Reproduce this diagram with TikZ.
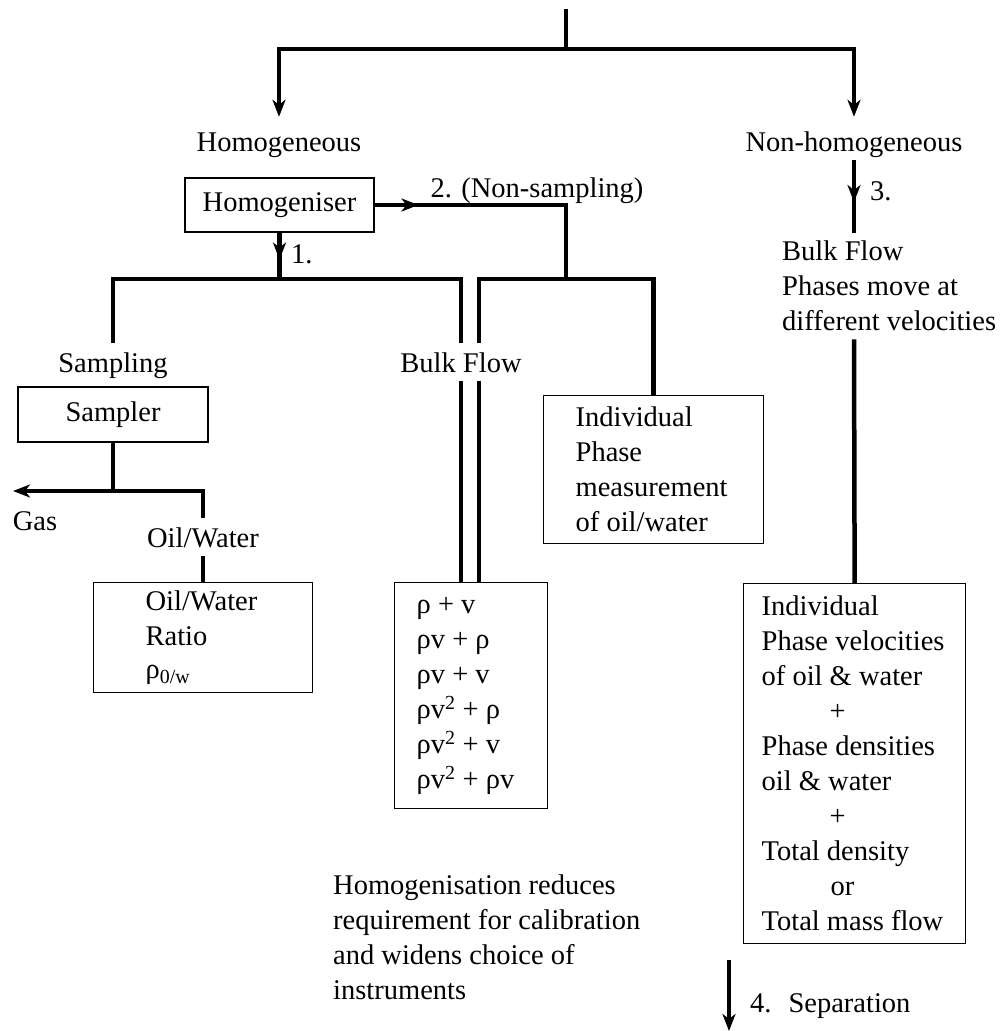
\documentclass[tikz,border=0pt]{standalone}
\usepackage{fontspec}
\setmainfont{Liberation Serif}
\usetikzlibrary{arrows.meta,decorations.markings,calc}
\hyphenpenalty=10000
\begin{document}
\begin{tikzpicture}[x=1pt,y=-1pt,
  every node/.style={font=\fontsize{28.5pt}{35pt}\selectfont, inner sep=0pt},
  lbl/.style={text height=26pt, text depth=6pt, inner ysep=3pt, inner xsep=2pt, anchor=base},
  para/.style={align=flush left, execute at begin node={\spaceskip=0pt\xspaceskip=0pt\relax}},
  conn/.style={line width=4.5pt, black},
  arrowend/.style={-{Stealth[length=17pt,width=13pt,inset=5pt]}},
  midarrow/.style={postaction={decorate}, decoration={markings, mark=at position #1 with {\arrow{Stealth[length=17pt,width=13pt,inset=5pt]}}}},
  box/.style={draw, line width=1.3pt, para, anchor=north west},
  sbox/.style={draw, line width=1.3pt},
]
\useasboundingbox (0,0) rectangle (1005,1031);

% top split
\coordinate (top) at (566,9);
\coordinate (j0) at (566,49);
\node[lbl] (homog) at (279,151) {Homogeneous};
\node[lbl] (nonhom) at (854,151) {Non-homogeneous};
\draw[conn] (top) -- (j0);
\draw[conn, arrowend, shorten >=5pt] (j0) -| (homog.north);
\draw[conn, arrowend, shorten >=5pt] (j0) -| (nonhom.north);

% homogeniser
\node[sbox, minimum width=189pt, minimum height=54pt] (homser) at (279.5,205) {Homogeniser};
\coordinate (j3) at (566,279);
\coordinate (j1) at (homser.south |- j3);
\draw[conn, midarrow=0.58] (homser.south) -- (j1);
\node[anchor=base west] (n1) at (291,263) {1.};
\draw[conn, midarrow=0.165] (homser.east) -| (j3);
\node[anchor=base] (n2) at (537,197) {2. (Non-sampling)};

% second level
\node[lbl] (sampling) at (113,372) {Sampling};
\node[lbl] (bulk) at (461,372) {Bulk Flow};
\node[box, minimum width=220pt, minimum height=148pt, text width=156pt, inner xsep=32pt] (indiv) at (543,395) {Individual\\Phase\\measurement\\of~oil/water};
\draw[conn] (sampling.north) |- (j1) -| (bulk.north);
\coordinate (bfrt) at ($(bulk.north)+(18,0)$);
\draw[conn] (bfrt) |- (j3) -| (indiv.north);

% sampler branch
\node[sbox, minimum width=190pt, minimum height=55pt] (sampler) at (113,414.5) {Sampler};
\coordinate (gasend) at (13,491);
\node[lbl] (ow) at (203,547) {Oil/Water};
\node[anchor=base] (gas) at (35,530) {Gas};
\draw[conn] (sampler.south) -- (sampler.south |- gasend);
\draw[conn, arrowend] (ow.north) |- (gasend);
\node[box, minimum width=219pt, minimum height=110pt, text width=115pt, inner xsep=52pt] (owbox) at (93,582) {Oil/Water\\Ratio\\[-2pt]ρ\textsubscript{0/w}};
\draw[conn] (ow.south) -- (ow.south |- owbox.north);

% bulk flow formulas
\node[box, minimum width=153pt, minimum height=226pt, text width=109pt, inner xsep=22pt] (formulas) at (394,582) {ρ~+~v\\ρv~+~ρ\\ρv~+~v\\ρv\textsuperscript{2}~+~ρ\\ρv\textsuperscript{2}~+~v\\ρv\textsuperscript{2}~+~ρv};
\draw[conn] (bulk.south) -- (bulk.south |- formulas.north);
\coordinate (bfrb) at ($(bulk.south)+(18,0)$);
\draw[conn] (bfrb) -- (bfrb |- formulas.north);

% non-homogeneous branch
\node[para, anchor=north west, inner xsep=2pt, inner ysep=8pt] (bulkR) at (780,233) {Bulk Flow\\Phases move at\\different velocities};
\draw[conn, midarrow=0.575] (nonhom.south) -- (nonhom.south |- bulkR.north);
\node[anchor=base west] (n3) at (870,200) {3.};
\node[box, minimum width=222pt, minimum height=360pt, text width=186pt, inner xsep=18pt] (rbox) at (743,583) {Individual\\Phase~velocities\\of~oil~\&~water\\\hspace*{68pt}+\\Phase~densities\\oil~\&~water\\\hspace*{68pt}+\\Total~density\\\hspace*{69pt}or\\Total~mass~flow};
\draw[conn] (nonhom.south |- bulkR.south) -- (rbox.north);

% separation
\coordinate (septop) at (729,960);
\coordinate (sepbot) at (729,1031);
\draw[conn, arrowend] (septop) -- (sepbot);
\node[anchor=base west] (sep) at (750,1012) {4.\hspace{17pt}Separation};

% note
\node[para, anchor=north west] (note) at (333,874.5) {Homogenisation reduces\\requirement for calibration\\and widens choice of\\instruments};
\end{tikzpicture}
\end{document}
